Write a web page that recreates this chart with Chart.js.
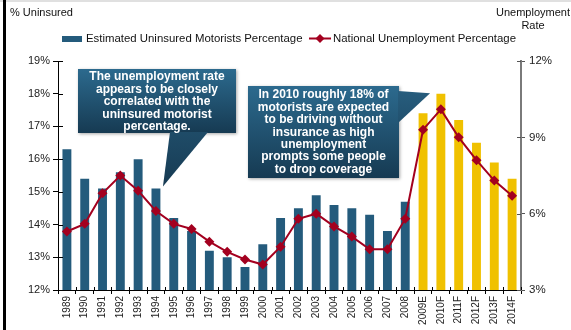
<!DOCTYPE html>
<html lang="en">
<head>
  <meta charset="UTF-8" />
  <title>Uninsured Motorists vs Unemployment</title>
  <script src="https://cdn.jsdelivr.net/npm/chart.js"></script>
  <style>
    body {
      margin: 0;
      padding: 0;
      background: #ffffff;
    }
    #wrap {
      position: relative;
      width: 571px;
      height: 330px;
    }
  </style>
</head>
<body>
<div id="wrap">
  <canvas id="chart" width="571" height="330"></canvas>
</div>

<script>
  // Years (E = estimate, F = forecast)
  const years = ["1989", "1990", "1991", "1992", "1993", "1994", "1995", "1996", "1997", "1998",
                 "1999", "2000", "2001", "2002", "2003", "2004", "2005", "2006", "2007", "2008",
                 "2009E", "2010F", "2011F", "2012F", "2013F", "2014F"];

  // % of motorists uninsured (left axis)
  const uninsured = [16.3, 15.4, 15.1, 15.6, 16.0, 15.1, 14.2, 13.8, 13.2, 13.0,
                     12.7, 13.4, 14.2, 14.5, 14.9, 14.6, 14.5, 14.3, 13.8, 14.7,
                     17.4, 18.0, 17.2, 16.5, 15.9, 15.4];

  // national unemployment rate (right axis)
  const unemployment = [5.3, 5.6, 6.8, 7.5, 6.9, 6.1, 5.6, 5.4, 4.9, 4.5,
                        4.2, 4.0, 4.7, 5.8, 6.0, 5.5, 5.1, 4.6, 4.6, 5.8,
                        9.3, 10.1, 9.0, 8.1, 7.3, 6.7];

  const leftTicks = [12, 19, 1];
  const rightTicks = [3, 12, 3];

  const FONT = "'Liberation Sans', Arial, sans-serif";
  const BLUE = "#245b7c";
  const GOLD = "#f0c100";
  const RED = "#a3001f";

  const barColors = years.map(y => /[EF]$/.test(y) ? GOLD : BLUE);

  function drawCallout(ctx, box, tail, lines) {
    ctx.save();
    // soft shadow
    ctx.shadowColor = "rgba(0,0,0,0.35)";
    ctx.shadowBlur = 3;
    ctx.shadowOffsetX = 1;
    ctx.shadowOffsetY = 1;
    const g = ctx.createLinearGradient(0, box.y, 0, box.y + box.h);
    g.addColorStop(0, "#2c6a8e");
    g.addColorStop(1, "#163a52");
    ctx.fillStyle = g;
    ctx.beginPath();
    ctx.rect(box.x, box.y, box.w, box.h);
    ctx.fill();
    ctx.shadowColor = "transparent";
    // speech tail
    const tg = ctx.createLinearGradient(0, box.y, 0, Math.max(box.y + box.h, tail[2][1]));
    tg.addColorStop(0, "#285f80");
    tg.addColorStop(1, "#173b53");
    ctx.fillStyle = tg;
    ctx.beginPath();
    ctx.moveTo(tail[0][0], tail[0][1]);
    ctx.lineTo(tail[2][0], tail[2][1]);
    ctx.lineTo(tail[1][0], tail[1][1]);
    ctx.closePath();
    ctx.fill();
    // text
    ctx.fillStyle = "#ffffff";
    ctx.font = "bold 12px " + FONT;
    ctx.textAlign = "center";
    ctx.textBaseline = "middle";
    lines.forEach((t, i) => {
      ctx.fillText(t, box.x + box.w / 2, box.ty + i * 12.4);
    });
    ctx.restore();
  }

  const decorations = {
    id: "decorations",
    afterDraw(chart) {
      const ctx = chart.ctx;
      const area = chart.chartArea;
      const x = chart.scales.x;
      const y = chart.scales.y;
      const y1 = chart.scales.y1;

      ctx.save();
      // frame accents
      ctx.fillStyle = "#000";
      ctx.fillRect(3, 0, 3, 330);
      ctx.fillStyle = "rgba(0,0,0,0.12)";
      ctx.fillRect(0, 0, 571, 2);

      // inward halves of the tick marks
      ctx.lineWidth = 1;
      ctx.strokeStyle = "#000";
      ctx.beginPath();
      for (let v = leftTicks[0]; v <= leftTicks[1]; v += leftTicks[2]) {
        const py = Math.round(y.getPixelForValue(v)) + 0.5;
        ctx.moveTo(area.left, py);
        ctx.lineTo(area.left + 5, py);
      }
      const step = (area.right - area.left) / years.length;
      for (let i = 0; i <= years.length; i++) {
        const px = Math.round(area.left + i * step) + 0.5;
        ctx.moveTo(px, area.bottom);
        ctx.lineTo(px, area.bottom - 3);
      }
      ctx.stroke();
      ctx.strokeStyle = "#555";
      ctx.beginPath();
      for (let v = rightTicks[0]; v <= rightTicks[1]; v += rightTicks[2]) {
        const py = Math.round(y1.getPixelForValue(v)) + 0.5;
        ctx.moveTo(area.right - 4, py);
        ctx.lineTo(area.right, py);
      }
      ctx.stroke();

      // axis titles
      ctx.fillStyle = "#111";
      ctx.font = "11px " + FONT;
      ctx.textBaseline = "middle";
      ctx.textAlign = "left";
      ctx.fillText("% Uninsured", 10, 13);
      ctx.textAlign = "center";
      ctx.fillText("Unemployment", 533, 13);
      ctx.fillText("Rate", 533, 26);

      // legend
      ctx.font = "11.4px " + FONT;
      ctx.fillStyle = BLUE;
      ctx.fillRect(62, 36, 20, 6);
      ctx.fillStyle = "#111";
      ctx.textAlign = "left";
      ctx.fillText("Estimated Uninsured Motorists Percentage", 86, 38.5);
      ctx.strokeStyle = RED;
      ctx.lineWidth = 2;
      ctx.beginPath();
      ctx.moveTo(309, 38.5);
      ctx.lineTo(331, 38.5);
      ctx.stroke();
      ctx.fillStyle = RED;
      ctx.beginPath();
      ctx.moveTo(320, 34);
      ctx.lineTo(324.5, 38.5);
      ctx.lineTo(320, 43);
      ctx.lineTo(315.5, 38.5);
      ctx.closePath();
      ctx.fill();
      ctx.fillStyle = "#111";
      ctx.fillText("National Unemployment Percentage", 333, 38.5);
      ctx.restore();

      // callouts
      const tip1 = [x.getPixelForValue(5) + 7, y.getPixelForValue(uninsured[5]) - 2];
      drawCallout(ctx,
        { x: 78, y: 69, w: 158, h: 64, ty: 77 },
        [[170, 132], [208, 132], tip1],
        ["The unemployment rate", "appears to be closely", "correlated with the",
         "uninsured motorist", "percentage."]);

      const tip2 = [x.getPixelForValue(20) + 7, y.getPixelForValue(uninsured[20]) - 20];
      drawCallout(ctx,
        { x: 248, y: 86, w: 151, h: 92, ty: 95 },
        [[398, 91], [398, 123], tip2],
        ["In 2010 roughly 18% of", "motorists are expected", "to be driving without",
         "insurance as high", "unemployment", "prompts some people", "to drop coverage"]);
    }
  };

  new Chart(document.getElementById("chart"), {
    data: {
      labels: years,
      datasets: [
        {
          type: "line",
          label: "National Unemployment Percentage",
          data: unemployment,
          yAxisID: "y1",
          borderColor: RED,
          backgroundColor: RED,
          borderWidth: 2,
          pointStyle: "rectRot",
          pointRadius: 5,
          pointBorderWidth: 0,
          tension: 0,
          order: 0
        },
        {
          type: "bar",
          label: "Estimated Uninsured Motorists Percentage",
          data: uninsured,
          yAxisID: "y",
          backgroundColor: barColors,
          barPercentage: 0.5,
          categoryPercentage: 1,
          order: 1
        }
      ]
    },
    options: {
      responsive: false,
      animation: false,
      devicePixelRatio: 1,
      layout: { padding: { top: 61, left: 0, right: 0, bottom: 0 } },
      plugins: {
        legend: { display: false },
        tooltip: { enabled: false }
      },
      scales: {
        x: {
          offset: true,
          grid: { offset: true, drawOnChartArea: false, tickLength: 4, color: "#000" },
          border: { display: true, color: "#000", width: 1 },
          ticks: {
            minRotation: 90,
            maxRotation: 90,
            padding: 2,
            color: "#222",
            font: { family: FONT, size: 10 }
          },
          afterFit: s => { s.height = 40; }
        },
        y: {
          position: "left",
          min: leftTicks[0],
          max: leftTicks[1],
          grid: { drawOnChartArea: false, tickLength: 5, color: "#000" },
          border: { display: true, color: "#000", width: 1 },
          ticks: {
            stepSize: leftTicks[2],
            padding: 3,
            color: "#222",
            font: { family: FONT, size: 11 },
            callback: v => v + "%"
          },
          afterFit: s => { s.width = 58; }
        },
        y1: {
          position: "right",
          min: rightTicks[0],
          max: rightTicks[1],
          grid: { drawOnChartArea: false, tickLength: 4, color: "#555" },
          border: { display: true, color: "#7a7a7a", width: 2 },
          ticks: {
            stepSize: rightTicks[2],
            padding: 4,
            color: "#222",
            font: { family: FONT, size: 11.5 },
            callback: v => v + "%"
          },
          afterFit: s => { s.width = 50; }
        }
      }
    },
    plugins: [decorations]
  });
</script>
</body>
</html>
